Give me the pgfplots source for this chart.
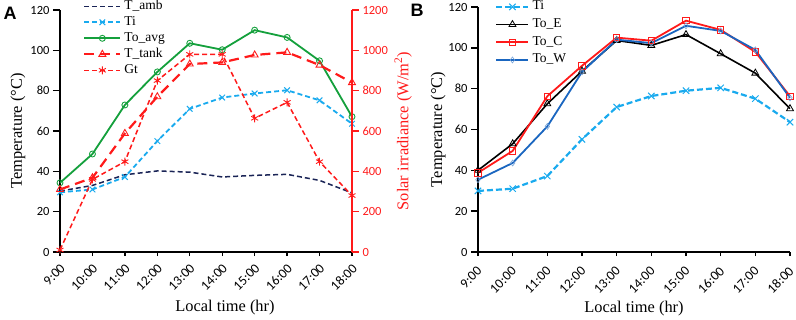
\documentclass[border=0pt]{standalone}
\usepackage{pgfplots}
\pgfplotsset{compat=1.18}
\usepackage{fontspec}
\setmainfont{Liberation Serif}
\newfontfamily\calibri{Carlito}
\newfontfamily\arialf{Liberation Sans}
\definecolor{navy}{HTML}{1A2456}
\definecolor{skyb}{HTML}{19AAEE}
\definecolor{grn}{HTML}{14A03C}
\definecolor{rd}{HTML}{FF1A1A}
\definecolor{bl}{HTML}{1A66C0}

\pgfplotstableread{
x Tamb Ti Toavg Ttank Gt
0 30.2 29.6 34.3 31.0 10
1 33.0 31.0 48.6 36.8 360
2 38.3 37.2 72.9 58.8 448
3 40.2 55.0 89.3 77.0 850
4 39.6 71.0 103.5 93.2 980
5 37.2 76.6 100.3 94.0 980
6 38.0 78.6 110.0 97.7 663
7 38.5 80.2 106.4 99.0 742
8 35.5 75.2 94.8 92.7 448
9 29.3 63.6 67.1 84.0 280
}\dataA

\pgfplotstableread{
x Ti ToE ToC ToW
0 29.9 40.0 38.8 35.4
1 31.0 53.0 49.5 43.6
2 37.2 72.6 76.3 61.5
3 55.2 88.6 91.2 88.2
4 71.0 103.6 105.0 104.0
5 76.4 101.2 103.5 102.3
6 79.0 106.5 113.3 110.8
7 80.4 97.1 108.8 108.3
8 75.1 87.6 98.0 99.0
9 63.6 70.2 76.3 75.5
}\dataB

\pgfplotsset{
  base/.style={
    scale only axis, anchor=south west, clip=false,
    xmin=0, xmax=9, ymin=0, ymax=120,
    axis x line*=bottom, axis y line*=left,
    axis line style={-, line width=1.6pt},
    xtick={0,...,9},
    xticklabels={9:00,10:00,11:00,12:00,13:00,14:00,15:00,16:00,17:00,18:00},
    ytick={0,20,...,120},
    tick align=outside, major tick length=7pt,
    tick style={line width=1.4pt, black},
    xtick style={/pgfplots/major tick length=4pt},
    xticklabel style={font=\calibri\fontsize{13.5}{13.5}\selectfont, rotate=45, anchor=east, inner sep=1pt, yshift=-7pt, xshift=-2pt},
    yticklabel style={font=\calibri\fontsize{12.5}{12.5}\selectfont},
    /pgf/number format/assume math mode=true,
    /pgf/number format/1000 sep={},
    label style={font=\fontsize{16.4}{18}\selectfont},
    legend cell align=left,
  },
  legline/.style={legend image code/.code={%
    \draw[##1,mark repeat=2,mark phase=2] plot coordinates {(0pt,0pt) (#1/2,0pt) (#1,0pt)};}},
}

\begin{document}
\begin{tikzpicture}[x=1pt,y=1pt]
\useasboundingbox (0,0) rectangle (796,319);

% ---------- Panel A ----------
\begin{axis}[base,
  at={(60pt,67pt)}, width=292pt, height=242pt,
  xlabel={Local time (hr)}, ylabel={Temperature (\textdegree C)},
  xlabel style={at={(rel axis cs:0.565,-0.231)}, anchor=center},
  ylabel style={at={(rel axis cs:-0.144,0.5)}, anchor=center, rotate=0},
  legline=36pt,
  legend style={draw=none, fill=none, at={(rel axis cs:0.079,1.045)}, anchor=north west,
    font=\fontsize{13.5}{14}\selectfont, inner sep=0pt, column sep=2pt, row sep=2pt,
    nodes={inner sep=1pt, text height=9pt, text depth=3pt}},
]
\addplot[navy, line width=1.5pt, dash pattern=on 5pt off 3pt] table[x=x,y=Tamb]{\dataA};
\addlegendentry{T\_amb}
\addplot[skyb, line width=1.8pt, dash pattern=on 5pt off 3pt, mark=x, mark size=4pt, mark options={solid, line width=1pt}] table[x=x,y=Ti]{\dataA};
\addlegendentry{Ti}
\addplot[grn, line width=1.8pt, mark=o, mark size=3pt, mark options={solid, line width=0.9pt, fill=none}] table[x=x,y=Toavg]{\dataA};
\addlegendentry{To\_avg}
\addplot[rd, line width=2.2pt, dash pattern=on 10pt off 6pt, mark=triangle, mark size=4pt, mark options={solid, line width=0.9pt}] table[x=x,y=Ttank]{\dataA};
\addlegendentry{T\_tank}
\addlegendimage{rd, line width=1.5pt, dash pattern=on 5pt off 3pt, mark=asterisk, mark size=4pt, mark options={solid, line width=0.9pt}}
\addlegendentry{Gt}
\end{axis}

\begin{axis}[
  scale only axis, anchor=south west, clip=false,
  at={(60pt,67pt)}, width=292pt, height=242pt,
  xmin=0, xmax=9, ymin=0, ymax=1200,
  axis x line=none, axis y line*=right,
  axis line style={-, line width=1.6pt, rd},
  ytick={0,200,...,1200},
  tick align=outside, major tick length=7pt,
  tick style={line width=1.4pt, rd},
  yticklabel style={font=\calibri\fontsize{12.5}{12.5}\selectfont, text=rd},
  /pgf/number format/assume math mode=true,
  /pgf/number format/1000 sep={},
  ylabel={Solar irradiance (W/m\textsuperscript{2})},
  ylabel style={font=\fontsize{16.4}{18}\selectfont, text=rd, at={(rel axis cs:1.175,0.5)}, anchor=center, rotate=0},
]
\addplot[rd, line width=1.5pt, dash pattern=on 5pt off 3pt, mark=asterisk, mark size=4pt, mark options={solid, line width=0.9pt}] table[x=x,y=Gt]{\dataA};
\end{axis}

\node[font=\arialf\bfseries\fontsize{18}{18}\selectfont, inner sep=0pt] at (10,305.5) {A};

% ---------- Panel B ----------
\begin{axis}[base,
  at={(478pt,67pt)}, width=312pt, height=245pt,
  xticklabel style={xshift=-3pt, yshift=-1pt},
  xlabel={Local time (hr)}, ylabel={Temperature (\textdegree C)},
  xlabel style={at={(rel axis cs:0.5,-0.229)}, anchor=center},
  ylabel style={at={(rel axis cs:-0.128,0.5)}, anchor=center, rotate=0},
  legline=32pt,
  legend style={draw=none, fill=none, at={(rel axis cs:0.055,1.03)}, anchor=north west,
    font=\fontsize{13.5}{14}\selectfont, inner sep=0pt, column sep=2pt, row sep=3.7pt,
    nodes={inner sep=1pt, text height=9pt, text depth=3pt}},
]
\addplot[skyb, line width=2.2pt, dash pattern=on 6pt off 3pt, mark=x, mark size=4.5pt, mark options={solid, line width=1pt}] table[x=x,y=Ti]{\dataB};
\addlegendentry{Ti}
\addplot[black, line width=1.6pt, mark=triangle, mark size=4pt, mark options={solid, line width=0.8pt, fill=none}] table[x=x,y=ToE]{\dataB};
\addlegendentry{To\_E}
\addplot[rd, line width=1.8pt, mark=square, mark size=3.2pt, mark options={solid, line width=0.8pt, fill=none}] table[x=x,y=ToC]{\dataB};
\addlegendentry{To\_C}
\addplot[bl, line width=1.8pt, mark=diamond, mark size=3pt, mark options={solid, line width=0.6pt, fill=none, draw=bl!60}] table[x=x,y=ToW]{\dataB};
\addlegendentry{To\_W}
\end{axis}

\node[font=\arialf\bfseries\fontsize{18}{18}\selectfont, inner sep=0pt] at (417,308.5) {B};
\end{tikzpicture}
\end{document}
